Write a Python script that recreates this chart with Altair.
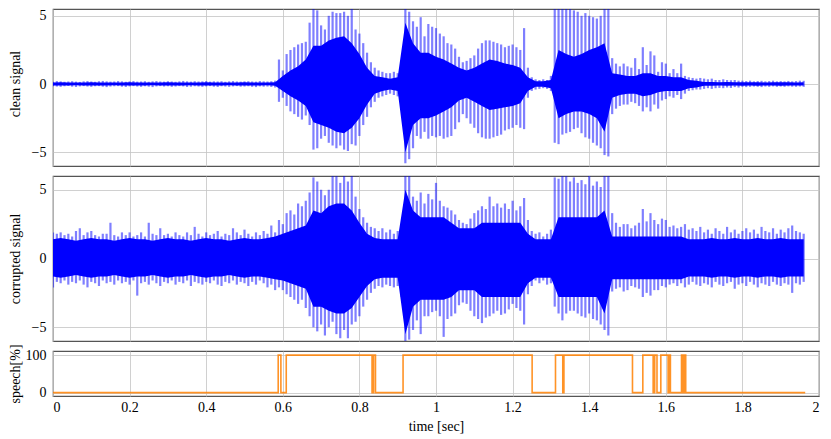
import altair as alt
import pandas as pd

# ---------------- data ----------------
# envelope of the clean signal, one value per 0.01 s (t = 0.00 ... 1.96)
clean_hi = [
    0.18, 0.22, 0.20, 0.17, 0.19, 0.21, 0.18, 0.16, 0.20, 0.22,
    0.19, 0.17, 0.21, 0.23, 0.20, 0.18, 0.19, 0.22, 0.20, 0.17,
    0.20, 0.22, 0.18, 0.19, 0.21, 0.17, 0.20, 0.22, 0.19, 0.18,
    0.21, 0.19, 0.17, 0.20, 0.23, 0.20, 0.18, 0.21, 0.19, 0.20,
    0.22, 0.18, 0.20, 0.19, 0.21, 0.17, 0.20, 0.22, 0.19, 0.18,
    0.20, 0.21, 0.19, 0.18, 0.22, 0.20, 0.19, 0.21, 0.25, 1.80,
    1.0, 2.2, 2.5, 2.7, 2.9, 3.0, 3.1, 4.5, 5.5, 5.4,
    4.3, 4.0, 5.0, 5.3, 5.2, 5.2, 5.3, 5.0, 5.6, 4.0,
    3.7, 3.0, 2.3, 1.6, 1.2, 1.0, 0.9, 0.8, 0.8, 0.9,
    0.8, 1.5, 5.7, 5.3, 4.6, 4.2, 4.9, 3.5, 4.4, 4.2,
    4.1, 3.7, 3.5, 3.0, 2.9, 2.6, 2.0, 1.6, 1.7, 1.9,
    2.1, 2.6, 3.0, 3.2, 3.2, 3.1, 3.0, 2.9, 2.7, 2.8,
    2.9, 2.7, 2.5, 4.1, 1.2, 0.5, 0.35, 0.3, 0.35, 0.3,
    0.6, 5.9, 5.8, 5.9, 5.8, 5.5, 5.4, 5.3, 5.0, 5.2,
    5.0, 4.9, 4.8, 5.0, 5.5, 5.6, 1.9, 1.5, 1.3, 1.5,
    1.3, 1.2, 1.9, 1.1, 2.7, 1.4, 2.4, 2.1, 0.9, 1.6,
    1.5, 0.8, 1.1, 0.8, 1.5, 0.6, 0.5, 0.45, 0.4, 0.45,
    0.4, 0.35, 0.4, 0.3, 0.3, 0.35, 0.3, 0.28, 0.3, 0.25,
    0.25, 0.22, 0.25, 0.2, 0.22, 0.24, 0.2, 0.22, 0.25, 0.2,
    0.22, 0.2, 0.23, 0.2, 0.22, 0.25, 0.24,
]
clean_lo = [
    -0.15, -0.18, -0.20, -0.16, -0.14, -0.19, -0.21, -0.17, -0.15, -0.18,
    -0.20, -0.16, -0.15, -0.19, -0.22, -0.18, -0.16, -0.15, -0.19, -0.21,
    -0.17, -0.15, -0.18, -0.20, -0.16, -0.19, -0.22, -0.17, -0.15, -0.18,
    -0.16, -0.20, -0.18, -0.15, -0.17, -0.21, -0.19, -0.16, -0.18, -0.20,
    -0.17, -0.15, -0.19, -0.21, -0.16, -0.18, -0.20, -0.17, -0.15, -0.19,
    -0.18, -0.16, -0.20, -0.22, -0.17, -0.19, -0.18, -0.21, -0.25, -1.30,
    -1.0, -1.6, -2.0, -2.2, -2.4, -2.6, -2.3, -3.0, -4.8, -4.7,
    -4.0, -3.8, -4.3, -4.5, -4.7, -4.5, -4.8, -4.9, -4.4, -4.5,
    -3.8, -3.0, -2.4, -1.7, -1.3, -1.0, -0.9, -0.8, -0.7, -0.8,
    -0.9, -1.3, -5.8, -5.5, -4.7, -3.8, -4.0, -3.5, -4.0, -3.8,
    -3.9, -3.8, -4.0, -3.9, -3.8, -3.3, -2.8, -2.2, -2.5, -2.9,
    -3.2, -3.6, -3.9, -4.0, -4.0, -3.9, -3.8, -3.7, -3.4, -3.3,
    -3.2, -3.0, -3.2, -3.3, -1.0, -0.5, -0.4, -0.35, -0.3, -0.35,
    -0.5, -4.3, -4.4, -3.7, -3.6, -3.5, -3.3, -3.2, -3.6, -3.9,
    -4.0, -4.3, -4.5, -4.7, -5.2, -5.3, -2.2, -1.8, -1.6, -1.5,
    -1.5, -1.3, -1.4, -1.6, -2.0, -1.7, -2.0, -1.5, -1.8, -1.2,
    -1.1, -0.9, -1.0, -0.8, -1.1, -0.7, -0.5, -0.45, -0.4, -0.4,
    -0.35, -0.3, -0.35, -0.3, -0.28, -0.3, -0.25, -0.28, -0.22, -0.25,
    -0.2, -0.22, -0.2, -0.18, -0.2, -0.22, -0.18, -0.2, -0.17, -0.2,
    -0.18, -0.2, -0.17, -0.19, -0.2, -0.18, -0.2,
]
# dense core of the clean signal, one value per 0.02 s (t = 0.00 ... 1.96)
clean_core_hi = [
    0.12, 0.13, 0.12, 0.11, 0.12, 0.13, 0.12, 0.12, 0.11, 0.12,
    0.13, 0.12, 0.12, 0.11, 0.12, 0.13, 0.12, 0.12, 0.11, 0.12,
    0.13, 0.12, 0.12, 0.11, 0.12, 0.13, 0.12, 0.12, 0.11, 0.14,
    0.6, 1.0, 1.3, 1.8, 2.8, 2.8, 3.2, 3.4, 3.5, 3.0,
    2.2, 1.2, 0.6, 0.5, 0.4, 0.5, 4.5, 3.0, 2.3, 2.3,
    2.0, 1.8, 1.5, 1.2, 1.0, 1.2, 1.5, 1.8, 1.7, 1.5,
    1.4, 1.2, 0.5, 0.2, 0.2, 0.3, 2.5, 2.2, 2.0, 2.2,
    2.5, 2.7, 3.0, 0.8, 0.7, 0.6, 0.6, 0.8, 0.8, 0.6,
    0.6, 0.5, 0.5, 0.3, 0.25, 0.15, 0.15, 0.14, 0.15, 0.13,
    0.14, 0.13, 0.14, 0.12, 0.13, 0.14, 0.13, 0.12, 0.13,
]
clean_core_lo = [
    -0.10, -0.11, -0.10, -0.09, -0.10, -0.11, -0.10, -0.10, -0.09, -0.10,
    -0.11, -0.10, -0.10, -0.09, -0.10, -0.11, -0.10, -0.10, -0.09, -0.10,
    -0.11, -0.10, -0.10, -0.09, -0.10, -0.11, -0.10, -0.10, -0.09, -0.12,
    -0.5, -0.9, -1.2, -1.6, -2.8, -3.0, -3.2, -3.5, -3.6, -3.2,
    -2.5, -1.5, -0.7, -0.5, -0.4, -0.5, -5.0, -3.0, -2.5, -2.5,
    -2.3, -2.0, -1.7, -1.2, -1.0, -1.3, -1.6, -1.9, -1.8, -1.7,
    -1.6, -1.4, -0.5, -0.2, -0.2, -0.3, -2.5, -2.2, -2.0, -2.0,
    -2.2, -2.5, -3.5, -1.0, -0.8, -0.7, -0.7, -0.9, -0.8, -0.6,
    -0.5, -0.5, -0.5, -0.3, -0.25, -0.12, -0.12, -0.11, -0.12, -0.11,
    -0.12, -0.11, -0.12, -0.10, -0.11, -0.12, -0.11, -0.10, -0.11,
]

# envelope of the corrupted signal, one value per 0.01 s
corr_hi = [
    1.9, 1.8, 1.9, 1.7, 1.8, 1.6, 2.0, 2.2, 1.7, 1.9,
    2.0, 1.7, 1.6, 1.8, 1.8, 2.6, 1.7, 1.6, 1.9, 1.7,
    1.9, 1.6, 1.7, 1.9, 1.6, 2.6, 1.8, 1.7, 2.2, 1.7,
    1.8, 1.6, 1.9, 1.7, 1.6, 1.9, 1.7, 2.3, 1.8, 1.6,
    1.9, 1.7, 1.8, 2.0, 1.6, 1.8, 1.7, 2.2, 1.9, 1.7,
    2.1, 1.8, 1.6, 1.9, 1.7, 2.0, 1.8, 2.4, 1.9, 2.8,
    2.5, 3.3, 3.5, 3.2, 4.0, 3.8, 4.2, 4.8, 5.9, 5.6,
    5.0, 4.6, 5.0, 6.0, 6.0, 5.5, 6.0, 5.6, 6.0, 4.5,
    3.6, 3.0, 2.6, 2.3, 2.2, 2.0, 2.2, 1.9, 2.1, 1.8,
    2.0, 2.4, 6.0, 6.0, 4.5, 4.2, 4.8, 4.0, 4.7, 4.3,
    5.5, 4.2, 3.8, 3.7, 3.5, 3.2, 2.8, 2.6, 2.5, 2.9,
    3.3, 3.5, 3.8, 3.6, 4.5, 3.8, 4.0, 3.7, 4.0, 3.6,
    4.2, 3.5, 3.8, 4.4, 2.8, 2.0, 1.8, 1.9, 1.6, 1.8,
    2.1, 5.9, 5.8, 6.0, 6.0, 5.6, 5.9, 5.5, 5.7, 5.4,
    6.0, 5.3, 5.6, 5.2, 6.0, 6.0, 3.3, 2.6, 2.3, 2.5,
    2.5, 2.2, 2.4, 2.6, 3.6, 2.7, 3.3, 2.8, 2.5, 2.9,
    2.8, 2.3, 2.4, 2.2, 2.3, 2.5, 2.1, 2.2, 2.0, 2.3,
    1.9, 2.1, 1.8, 2.2, 2.0, 1.8, 2.3, 1.9, 2.1, 1.8,
    2.0, 2.2, 1.9, 2.1, 1.8, 2.3, 2.0, 1.9, 2.2, 1.8,
    2.1, 1.9, 2.2, 2.4, 2.0, 1.9, 1.8,
]
corr_lo = [
    -2.1, -1.7, -1.8, -1.6, -1.9, -1.7, -1.8, -1.6, -1.9, -2.1,
    -1.7, -1.8, -2.0, -1.6, -1.8, -1.7, -1.9, -1.6, -1.8, -1.7,
    -1.9, -1.6, -2.7, -1.8, -1.7, -1.9, -1.6, -1.8, -2.0, -1.7,
    -1.8, -1.6, -1.9, -1.7, -1.8, -1.6, -2.0, -1.7, -1.8, -1.9,
    -1.7, -1.8, -1.6, -1.9, -2.0, -1.7, -1.8, -1.6, -1.9, -1.7,
    -1.8, -2.0, -1.7, -1.9, -1.6, -1.8, -2.1, -1.9, -2.3, -2.1,
    -2.3, -2.6, -2.8, -3.0, -3.3, -3.0, -3.6, -4.2, -5.0, -5.3,
    -4.8, -5.6, -5.0, -4.6, -5.5, -5.8, -5.2, -5.8, -4.8, -4.6,
    -4.2, -3.5, -3.0, -2.5, -2.2, -2.0, -2.1, -1.9, -2.0, -2.1,
    -2.0, -2.8, -6.0, -5.9, -5.2, -4.5, -5.5, -4.2, -4.2, -3.9,
    -3.8, -4.2, -5.7, -4.4, -4.2, -4.0, -3.4, -3.2, -3.3, -3.8,
    -4.2, -4.4, -4.7, -4.3, -4.2, -4.0, -3.8, -4.1, -4.0, -3.7,
    -3.3, -3.6, -3.8, -4.8, -2.6, -2.0, -1.6, -1.8, -1.6, -1.9,
    -1.8, -3.5, -4.0, -4.5, -4.0, -3.8, -3.8, -4.0, -4.2, -4.3,
    -4.0, -4.4, -4.5, -4.8, -5.2, -5.6, -2.4, -2.2, -2.1, -2.4,
    -2.3, -2.0, -2.1, -2.2, -2.8, -2.5, -2.7, -2.3, -2.3, -2.0,
    -2.1, -1.9, -1.8, -2.0, -1.8, -2.1, -1.9, -1.7, -1.9, -2.0,
    -1.8, -1.9, -2.1, -1.7, -1.9, -2.0, -1.8, -1.7, -2.2, -1.9,
    -1.8, -2.0, -1.7, -1.9, -2.1, -1.8, -1.9, -2.0, -1.7, -1.9,
    -2.0, -1.8, -1.9, -2.5, -1.8, -1.9, -1.7,
]
# dense core of the corrupted signal, one value per 0.02 s
corr_core_hi = [
    1.4, 1.5, 1.4, 1.3, 1.4, 1.5, 1.4, 1.4, 1.3, 1.4,
    1.5, 1.4, 1.4, 1.3, 1.4, 1.5, 1.4, 1.4, 1.3, 1.4,
    1.5, 1.4, 1.4, 1.3, 1.4, 1.5, 1.4, 1.4, 1.5, 1.6,
    1.8, 2.0, 2.2, 2.4, 3.5, 3.3, 3.8, 4.0, 4.0, 3.5,
    2.6, 1.8, 1.5, 1.4, 1.4, 1.4, 5.0, 3.5, 3.0, 3.0,
    3.0, 3.0, 2.6, 2.2, 2.2, 2.2, 2.6, 2.6, 2.6, 2.6,
    2.6, 2.6, 1.8, 1.4, 1.4, 1.4, 3.0, 3.0, 3.0, 3.0,
    3.0, 3.0, 3.5, 1.6, 1.6, 1.6, 1.6, 1.6, 1.6, 1.6,
    1.6, 1.6, 1.6, 1.4, 1.4, 1.4, 1.5, 1.4, 1.4, 1.5,
    1.4, 1.4, 1.5, 1.4, 1.4, 1.5, 1.4, 1.4, 1.4,
]
corr_core_lo = [
    -1.3, -1.4, -1.3, -1.2, -1.3, -1.4, -1.3, -1.3, -1.2, -1.3,
    -1.4, -1.3, -1.3, -1.2, -1.3, -1.4, -1.3, -1.3, -1.2, -1.3,
    -1.4, -1.3, -1.3, -1.2, -1.3, -1.4, -1.3, -1.3, -1.4, -1.5,
    -1.6, -1.8, -2.0, -2.2, -3.5, -3.5, -3.8, -4.0, -4.0, -3.6,
    -2.8, -2.0, -1.5, -1.4, -1.4, -1.4, -5.5, -3.5, -3.0, -3.0,
    -3.0, -3.0, -2.8, -2.3, -2.3, -2.3, -2.8, -2.8, -2.8, -2.8,
    -2.8, -2.8, -1.8, -1.4, -1.4, -1.4, -2.8, -2.8, -2.8, -2.8,
    -2.8, -2.8, -4.0, -1.5, -1.5, -1.5, -1.5, -1.5, -1.5, -1.5,
    -1.5, -1.5, -1.5, -1.3, -1.3, -1.3, -1.4, -1.3, -1.3, -1.4,
    -1.3, -1.3, -1.4, -1.3, -1.3, -1.4, -1.3, -1.3, -1.3,
]

# speech detector output (step function)
vad_t = [0.000, 0.588, 0.595, 0.609, 0.833, 0.837, 0.842, 0.914, 1.251, 1.312,
         1.331, 1.334, 1.513, 1.540, 1.567, 1.571, 1.577, 1.587, 1.606, 1.609,
         1.612, 1.641, 1.645, 1.648, 1.652, 1.964]
vad_v = [0, 100, 0, 100, 0, 100, 0, 100, 0, 100,
         0, 100, 0, 100, 0, 100, 0, 100, 0, 100,
         0, 100, 0, 100, 0, 0]

x_ticks = [0, 0.2, 0.4, 0.6, 0.8, 1.0, 1.2, 1.4, 1.6, 1.8, 2.0]
sig_ticks = [-5, 0, 5]
vad_ticks = [0, 100]

# sample times of the envelope tables
t_fine = [i / 100 for i in range(len(clean_hi))]
t_coarse = [i / 50 for i in range(len(clean_core_hi))]

BLUE = "#0000ff"
ORANGE = "#ff8000"
FONT = "Liberation Serif"
W = 766


def x_enc(field, show):
    axis = alt.Axis(values=x_ticks, grid=True, ticks=False, domain=False,
                    labels=show, title="time [sec]" if show else None,
                    format="~g", labelPadding=4,
                    titleX=W / 2, titleY=34, titleBaseline="alphabetic",
                    titleAlign="center")
    return alt.X(f"{field}:Q", scale=alt.Scale(domain=[0, 2], nice=False, zero=False),
                 axis=axis)


def y_axis(title, values, title_y):
    return alt.Axis(values=values, grid=True, ticks=False, domain=False,
                    labelPadding=7, title=title, titleX=-34, titleY=title_y,
                    titleAngle=270, titleBaseline="alphabetic", titleAlign="center")


def signal_panel(hi, lo, chi, clo, domain, height, title, title_y):
    fine = pd.DataFrame({"t": t_fine, "hi": hi, "lo": lo})
    coarse = pd.DataFrame({"t": t_coarse, "hi": chi, "lo": clo})
    yscale = alt.Scale(domain=domain, nice=False, zero=False)
    yax = y_axis(title, sig_ticks, title_y)
    rules = alt.Chart(fine).mark_rule(color=BLUE, strokeWidth=2.2, opacity=0.5, clip=True).encode(
        x=x_enc("t", False),
        y=alt.Y("lo:Q", scale=yscale, axis=yax),
        y2="hi:Q",
    )
    core = alt.Chart(coarse).mark_area(color=BLUE, opacity=1.0, clip=True).encode(
        x=x_enc("t", False),
        y=alt.Y("lo:Q", scale=yscale, axis=yax),
        y2="hi:Q",
    )
    return alt.layer(rules, core).properties(width=W, height=height)


top = signal_panel(clean_hi, clean_lo, clean_core_hi, clean_core_lo,
                   [-6, 5.5], 157, "clean signal", 74.5)
mid = signal_panel(corr_hi, corr_lo, corr_core_hi, corr_core_lo,
                   [-6, 6], 165, "corrupted signal", 82.5)

vad_df = pd.DataFrame({"t": vad_t, "v": vad_v})
bottom = alt.Chart(vad_df).mark_line(color=ORANGE, strokeWidth=1.6, opacity=0.85,
                                     interpolate="step-after", clip=True).encode(
    x=x_enc("t", True),
    y=alt.Y("v:Q", scale=alt.Scale(domain=[-9, 111], nice=False, zero=False),
            axis=y_axis("speech[%]", vad_ticks, 22.5)),
).properties(width=W, height=45)

chart = alt.vconcat(top, mid, bottom, spacing=10, bounds="flush").properties(
    padding={"left": -1, "top": 0, "right": 0, "bottom": 0}
).configure_view(
    stroke="#555555", strokeWidth=1.2
).configure_axis(
    gridColor="#c4c4c4", gridWidth=0.8, gridOpacity=1,
    labelFont=FONT, titleFont=FONT, labelFontSize=14, titleFontSize=14,
    labelColor="#000000", titleColor="#000000", titleFontWeight="normal",
)

chart.save("out.html", embed_options={"renderer": "svg", "actions": False})
